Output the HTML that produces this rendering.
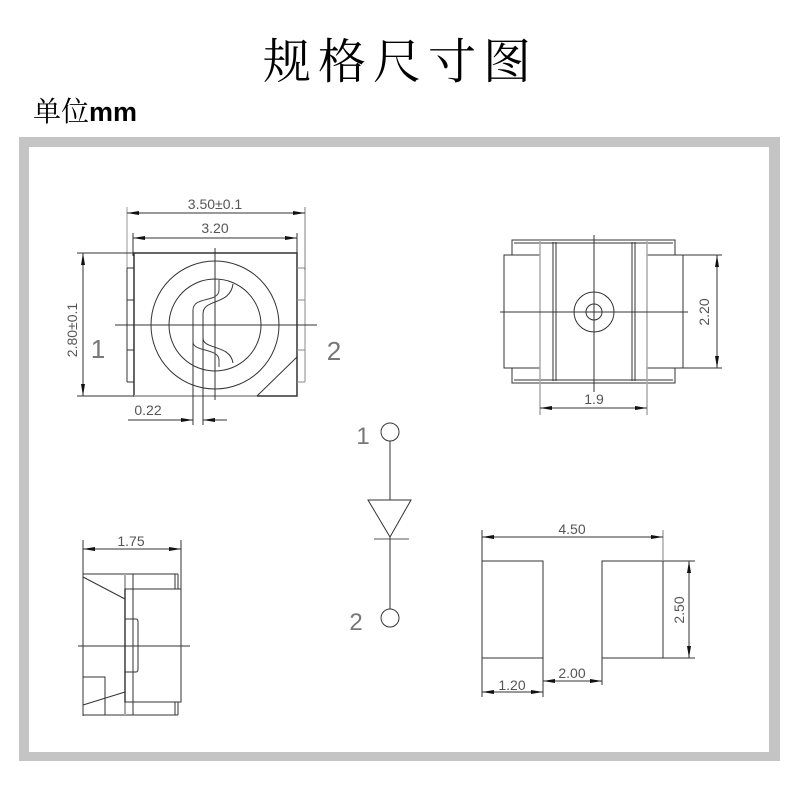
<!DOCTYPE html>
<html><head><meta charset="utf-8"><style>
html,body{margin:0;padding:0;background:#fff;}
svg{display:block}
</style></head><body>
<svg width="800" height="800" viewBox="0 0 800 800" xmlns="http://www.w3.org/2000/svg">
<rect width="800" height="800" fill="#fff"/>
<text x="263" y="78" font-family="Noto Serif CJK SC, serif" font-size="48" letter-spacing="7" fill="#000">规格尺寸图</text>
<text x="33" y="121" font-family="Noto Serif CJK SC, serif" font-size="28" fill="#000">单位<tspan font-family="Liberation Sans Narrow, Liberation Sans, sans-serif" font-size="27" font-weight="bold">mm</tspan></text>
<!-- frame -->
<path d="M19 137 H780 V761 H19 Z M29 147 V752 H769 V147 Z" fill="#c4c4c4" fill-rule="evenodd"/>
<defs>
<marker id="a" markerWidth="12" markerHeight="6" refX="12" refY="3" orient="auto-start-reverse" markerUnits="userSpaceOnUse"><path d="M0 1 L12 3 L0 5Z" fill="#111"/></marker>
</defs>
<g fill="none" stroke="#333" stroke-width="1">
<!-- top view -->
<line x1="127" y1="207" x2="127" y2="270" stroke="#999"/>
<line x1="305" y1="207" x2="305" y2="270" stroke="#aaa" stroke-width="1.5"/>
<line x1="127" y1="213" x2="305" y2="213" marker-start="url(#a)" marker-end="url(#a)"/>
<line x1="133" y1="233" x2="133" y2="256"/>
<line x1="297" y1="233" x2="297" y2="256"/>
<line x1="133" y1="238" x2="297" y2="238" marker-start="url(#a)" marker-end="url(#a)"/>
<rect x="134" y="253" width="163" height="143" stroke-width="1.5"/>
<line x1="134" y1="396" x2="257" y2="396" stroke="#aaa" stroke-width="2"/>
<path d="M127 268 H134 M127 300 H134 M127 350 H134 M127 382 H134 M127 268 V382" />
<path d="M297 268 H305 M297 300 H305 M297 350 H305 M297 382 H305 M305 268 V382" stroke="#888"/>
<line x1="297" y1="357" x2="257" y2="396"/>
<circle cx="215" cy="325" r="64"/>
<circle cx="215" cy="325" r="46"/>
<line x1="115" y1="325" x2="317" y2="325"/>
<line x1="215" y1="248" x2="215" y2="400"/>
<path d="M219 280 V290 C219 303 193 296 193 310 V342 C193 352 219 348 219 360 V367" stroke="#444"/>
<path d="M233 284 C230 306 203 298 203 314 V338 C203 350 230 344 233 363"/>
<line x1="193" y1="310" x2="193" y2="425"/>
<line x1="203" y1="314" x2="203" y2="425"/>
<line x1="128" y1="420" x2="193" y2="420" marker-end="url(#a)"/>
<line x1="227" y1="420" x2="203" y2="420" marker-end="url(#a)"/>
<line x1="77" y1="253" x2="134" y2="253"/>
<line x1="77" y1="396" x2="134" y2="396"/>
<line x1="83" y1="253" x2="83" y2="396" marker-start="url(#a)" marker-end="url(#a)"/>
<!-- back view -->
<rect x="512" y="240" width="163" height="143"/>
<line x1="514" y1="243" x2="673" y2="243"/>
<line x1="514" y1="380" x2="673" y2="380"/>
<line x1="553" y1="242" x2="553" y2="381"/><line x1="556" y1="242" x2="556" y2="381"/>
<line x1="632" y1="242" x2="632" y2="381"/><line x1="635" y1="242" x2="635" y2="381"/>
<rect x="504" y="255" width="36" height="113" fill="#fff"/>
<rect x="647" y="255" width="36" height="113" fill="#fff"/>
<line x1="540" y1="240" x2="540" y2="415" stroke="#aaa" stroke-width="1.5"/>
<line x1="647" y1="240" x2="647" y2="415" stroke="#aaa" stroke-width="1.5"/>
<circle cx="594" cy="312" r="20"/><circle cx="594" cy="312" r="8"/>
<line x1="500" y1="312" x2="688" y2="312"/>
<line x1="594" y1="235" x2="594" y2="392"/>
<line x1="683" y1="255" x2="722" y2="255"/><line x1="683" y1="368" x2="722" y2="368"/>
<line x1="717" y1="255" x2="717" y2="368" marker-start="url(#a)" marker-end="url(#a)"/>
<line x1="540" y1="408" x2="647" y2="408" marker-start="url(#a)" marker-end="url(#a)"/>
<!-- side view -->
<line x1="83" y1="540" x2="83" y2="716"/>
<line x1="181" y1="540" x2="181" y2="589"/>
<line x1="83" y1="549" x2="181" y2="549" marker-start="url(#a)" marker-end="url(#a)"/>
<line x1="83" y1="574" x2="178" y2="574"/>
<line x1="83" y1="715" x2="178" y2="715"/>
<line x1="125" y1="574" x2="125" y2="715" stroke="#aaa" stroke-width="2"/>
<line x1="133" y1="574" x2="133" y2="715"/>
<rect x="125" y="589" width="56" height="113"/>
<line x1="175" y1="574" x2="175" y2="589"/><line x1="178" y1="574" x2="178" y2="589"/>
<line x1="175" y1="702" x2="175" y2="715"/><line x1="178" y1="702" x2="178" y2="715"/>
<line x1="83" y1="577" x2="125" y2="599"/>
<line x1="83" y1="705" x2="125" y2="692"/>
<path d="M83 677 H105 V715"/>
<path d="M125 619 H136 Q138 619 138 622 V669 Q138 672 136 672 H125"/>
<line x1="78" y1="646" x2="190" y2="646"/>
<!-- diode -->
<circle cx="390" cy="432" r="9"/>
<line x1="390" y1="441" x2="390" y2="500"/>
<path d="M368 500 H411 L390 537 Z"/>
<line x1="374" y1="539" x2="409" y2="539" stroke="#aaa" stroke-width="2"/>
<line x1="390" y1="537" x2="390" y2="609"/>
<circle cx="390" cy="618" r="9"/>
<!-- footprint -->
<line x1="482" y1="530" x2="482" y2="697"/>
<line x1="663" y1="530" x2="663" y2="560" stroke="#aaa" stroke-width="1.5"/>
<line x1="482" y1="537" x2="663" y2="537" marker-start="url(#a)" marker-end="url(#a)"/>
<rect x="482" y="561" width="61" height="97"/>
<rect x="602" y="561" width="61" height="97"/>
<line x1="663" y1="561" x2="695" y2="561"/><line x1="663" y1="658" x2="695" y2="658"/>
<line x1="689" y1="561" x2="689" y2="658" marker-start="url(#a)" marker-end="url(#a)"/>
<line x1="543" y1="658" x2="543" y2="697"/>
<line x1="602" y1="658" x2="602" y2="685"/>
<line x1="543" y1="681" x2="602" y2="681" marker-start="url(#a)" marker-end="url(#a)"/>
<line x1="482" y1="692" x2="543" y2="692" marker-start="url(#a)" marker-end="url(#a)"/>
</g>
<g font-family="Liberation Sans, sans-serif" font-size="14" fill="#555" text-anchor="middle">
<text x="215" y="209">3.50±0.1</text>
<text x="215" y="233">3.20</text>
<text x="148" y="415">0.22</text>
<text x="77" y="330" transform="rotate(-90 77 330)">2.80±0.1</text>
<text x="709" y="312" transform="rotate(-90 709 312)">2.20</text>
<text x="594" y="404">1.9</text>
<text x="131" y="546">1.75</text>
<text x="572" y="534">4.50</text>
<text x="684" y="610" transform="rotate(-90 684 610)">2.50</text>
<text x="572" y="678">2.00</text>
<text x="512" y="690">1.20</text>
</g>
<g font-family="Liberation Sans, sans-serif" font-size="26" fill="#777" text-anchor="middle">
<text x="98" y="358">1</text>
<text x="334" y="360">2</text>
<text x="363" y="444" font-size="24">1</text>
<text x="356" y="630" font-size="24">2</text>
</g>
</svg>
</body></html>
